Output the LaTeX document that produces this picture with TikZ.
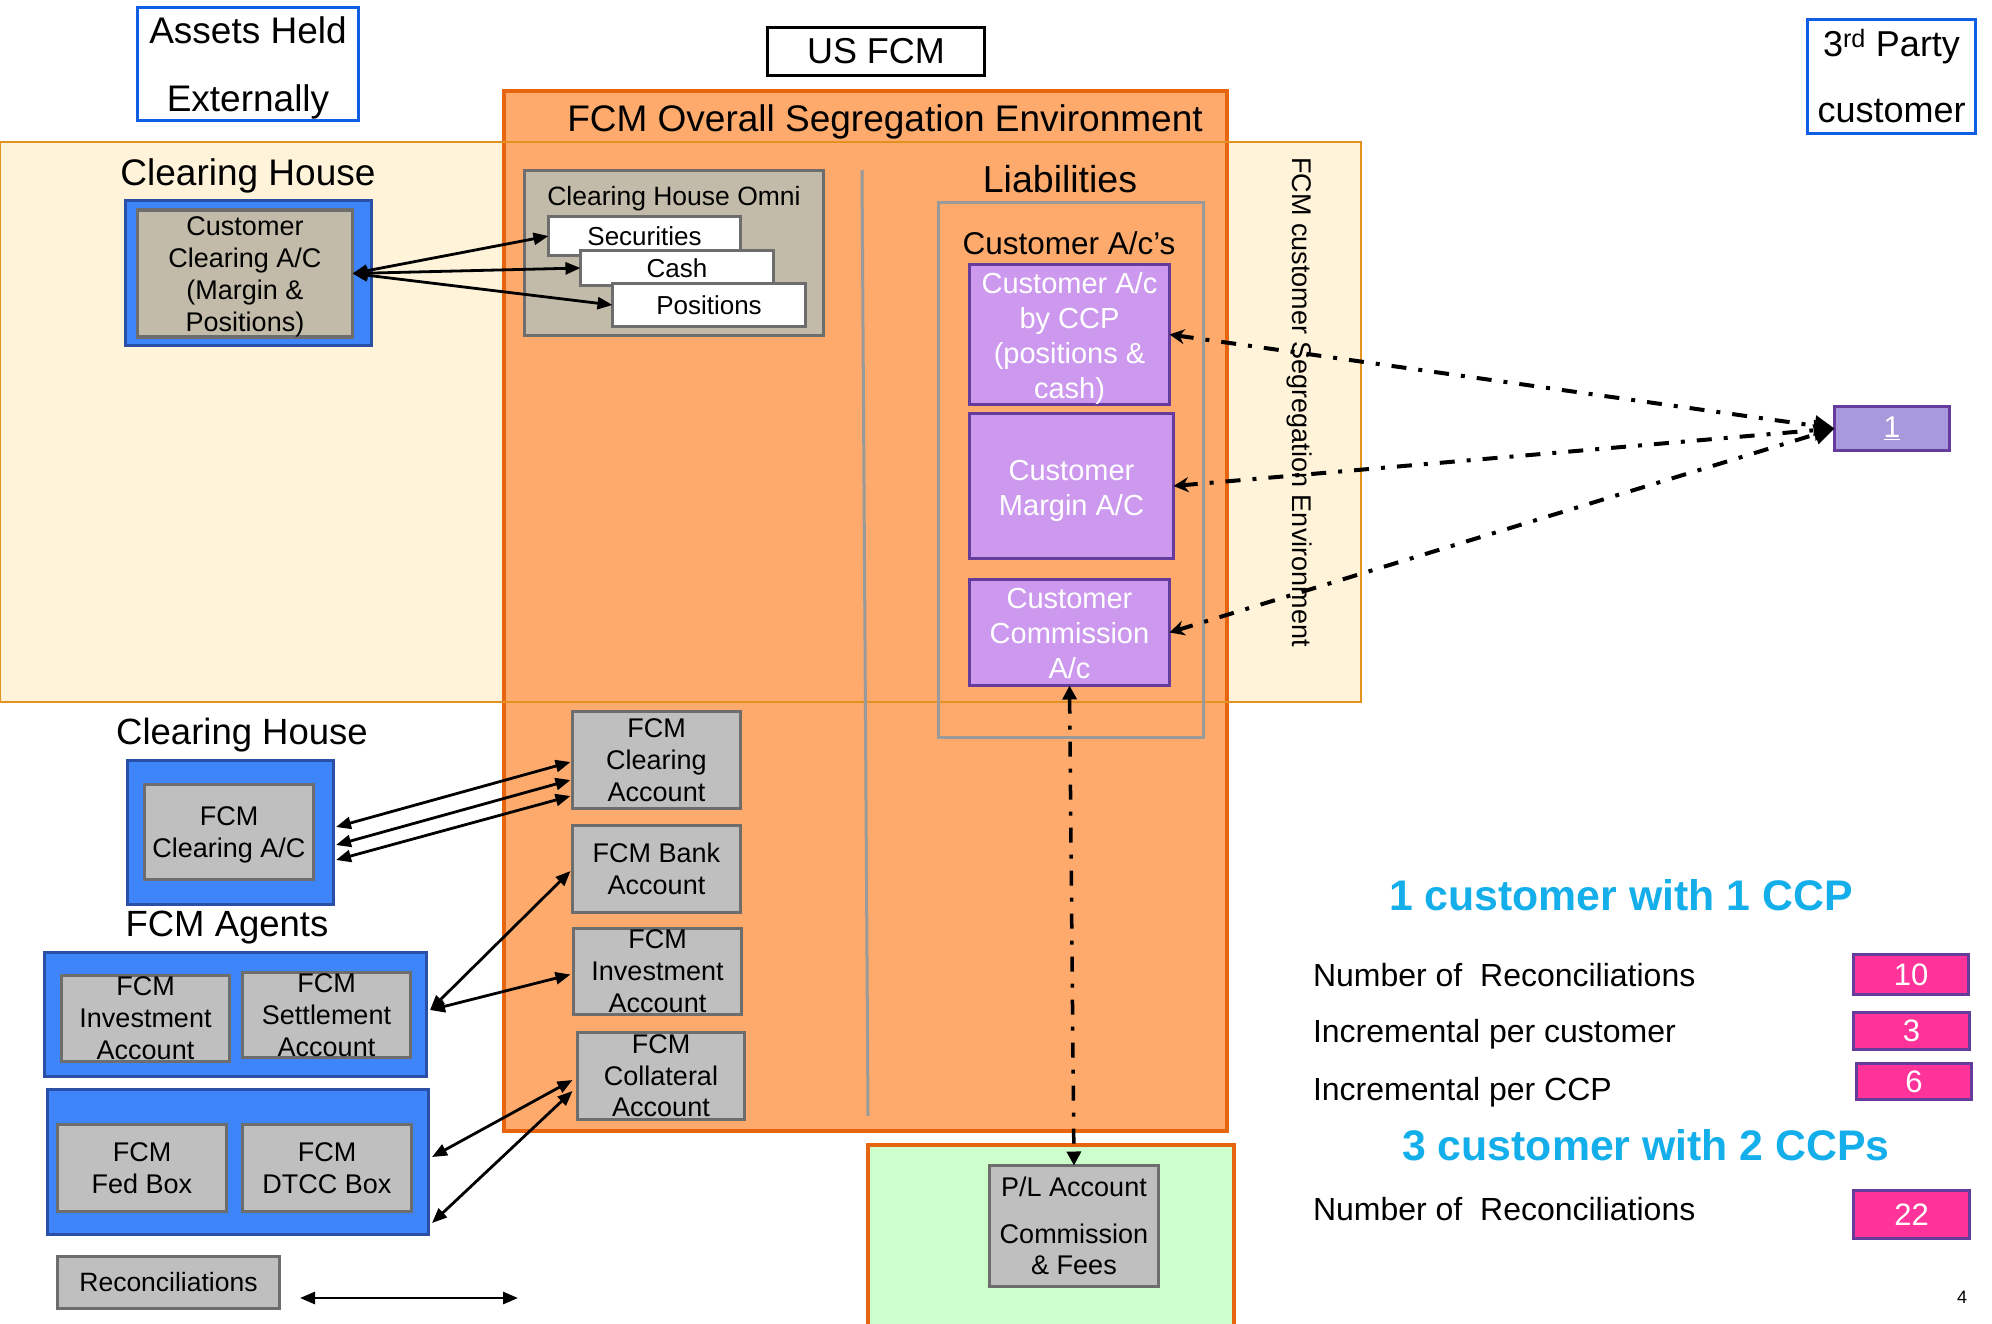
\documentclass[tikz,border=0pt]{standalone}
\usepackage{fontspec}
\setmainfont{Liberation Sans}
\usetikzlibrary{arrows.meta}
\definecolor{orfill}{HTML}{FDAA6C}
\definecolor{orline}{HTML}{E8650F}
\definecolor{palefill}{HTML}{FFF3DA}
\definecolor{paleline}{HTML}{E39222}
\definecolor{bluefill}{HTML}{3D85F8}
\definecolor{blueline}{HTML}{2A4FA6}
\definecolor{assetline}{HTML}{0F5FE6}
\definecolor{tanfill}{HTML}{C3BBA9}
\definecolor{boxline}{HTML}{6D6D6D}
\definecolor{grayfill}{HTML}{BFBFBF}
\definecolor{purfill}{HTML}{CC99EE}
\definecolor{purline}{HTML}{653C9C}
\definecolor{onefill}{HTML}{A898DC}
\definecolor{pinkfill}{HTML}{FF3399}
\definecolor{cyantext}{HTML}{14AFEB}
\definecolor{greenfill}{HTML}{CCFFCC}
\definecolor{vgray}{HTML}{9A9A9A}
\newcommand{\toph}[1]{\rule{0pt}{#1}}
\begin{document}
\begin{tikzpicture}[x=1pt,y=-1pt,
  box/.style={inner sep=0pt, outer sep=0pt, align=center},
  bluebox/.style={box, draw=blueline, fill=bluefill, line width=3pt},
  tanbox/.style={box, draw=boxline, fill=tanfill, line width=3.5pt, font=\fontsize{27}{32}\selectfont},
  whitebox/.style={box, draw=boxline, fill=white, line width=3pt, font=\fontsize{26}{30}\selectfont},
  graybox/.style={box, draw=boxline, fill=grayfill, line width=3.5pt, font=\fontsize{27}{32}\selectfont},
  purbox/.style={box, draw=purline, fill=purfill, line width=3.5pt, text=white, font=\fontsize{29}{35}\selectfont},
  pinkbox/.style={box, draw=purline, fill=pinkfill, line width=3pt, text=white, font=\fontsize{31}{36}\selectfont},
  titlebox/.style={box, fill=white, line width=3pt},
  lbl/.style={inner sep=0pt, outer sep=0pt, text depth=0pt},
  biarrow/.style={{Triangle[length=15pt,width=12pt]}-{Triangle[length=15pt,width=12pt]}, line width=2.8pt},
  ddarrow/.style={{Stealth[length=15pt,width=15pt]}-{Triangle[length=20pt,width=20pt]}, line width=4pt, dash pattern=on 15pt off 12pt on 4pt off 12pt},
  vddarrow/.style={{Triangle[length=14pt,width=14pt]}-{Triangle[length=14pt,width=14pt]}, line width=3.5pt, dash pattern=on 15pt off 12pt on 4pt off 12pt}
]
\useasboundingbox (0,0) rectangle (1992,1323);
\fill[white] (0,0) rectangle (1992,1323);

% background regions
\node[box, fill=palefill, minimum width=1361pt, minimum height=560pt] (pale) at (680.5,422) {};
\node[box, fill=orfill, draw=orline, line width=3.5pt, minimum width=723pt, minimum height=1040pt] (env) at (865.5,611) {};
\node[box, fill=greenfill, draw=orline, line width=3.5pt, minimum width=366pt, minimum height=195pt] (green) at (1051,1242.5) {};
\draw[paleline, line width=2pt] (pale.north west) rectangle (pale.south east);
\draw[vgray, line width=3pt] (862,170) -- (868,1116);
\node[box, draw=vgray, line width=3pt, minimum width=265pt, minimum height=535pt] (liab) at (1070.5,469.5) {};

% top titles
\node[titlebox, draw=assetline, minimum width=221pt, minimum height=113pt, font=\fontsize{37}{68}\selectfont] (assets) at (248,64) {\toph{35pt}Assets Held\\Externally};
\node[titlebox, draw=black, minimum width=217pt, minimum height=48pt, font=\fontsize{36}{40}\selectfont] (usfcm) at (876,51.5) {US FCM};
\node[titlebox, draw=assetline, minimum width=168pt, minimum height=114pt, font=\fontsize{36}{66}\selectfont] (third) at (1891.5,76.5) {3\textsuperscript{rd} Party\\customer};

\node[lbl, font=\fontsize{37}{40}\selectfont] (envtitle) at (885,118) {FCM Overall Segregation Environment};
\node[lbl, font=\fontsize{37}{40}\selectfont] (ch1) at (248,172) {Clearing House};
\node[lbl, font=\fontsize{37.5}{40}\selectfont] (liabt) at (1060,179) {Liabilities};
\node[lbl, font=\fontsize{31.5}{36}\selectfont] (custac) at (1069,243) {Customer A/c’s};
\node[lbl, rotate=-90, font=\fontsize{27}{30}\selectfont] (vtext) at (1302,402) {FCM customer Segregation Environment};

% clearing house (customer)
\node[bluebox, minimum width=246pt, minimum height=145pt] (ccblue) at (248,272.5) {};
\node[tanbox, minimum width=215pt, minimum height=126pt] (ccinner) at (245,273.5) {\toph{25pt}Customer\\Clearing A/C\\(Margin \&\\Positions)};

% omni
\node[tanbox, minimum width=299pt, minimum height=165pt] (omni) at (674,253) {};
\node[lbl, font=\fontsize{26.5}{30}\selectfont] (omnit) at (674,196) {Clearing House Omni};
\node[whitebox, minimum width=192pt, minimum height=39pt] (sec) at (644.5,236) {Securities};
\node[whitebox, minimum width=193pt, minimum height=35pt] (cash) at (677,268) {Cash};
\node[whitebox, minimum width=193pt, minimum height=43pt] (pos) at (709,305) {Positions};

% purple liabilities
\node[purbox, minimum width=200pt, minimum height=132pt] (p1) at (1069.5,334.5) {\toph{29pt}Customer A/c\\by CCP\\(positions \&\\cash)};
\node[purbox, minimum width=204pt, minimum height=145pt] (p2) at (1071.5,486) {\toph{29pt}Customer\\Margin A/C};
\node[purbox, minimum width=200pt, minimum height=106pt] (p3) at (1069.5,632.5) {\toph{23pt}Customer\\Commission\\A/c};
\node[box, draw=purline, fill=onefill, line width=3.5pt, text=white, minimum width=115pt, minimum height=44pt, font=\fontsize{30}{34}\selectfont] (one) at (1892,428.5) {\underline{1}};

% lower clearing house
\node[lbl, font=\fontsize{36.5}{40}\selectfont] (ch2) at (242,731) {Clearing House};
\node[bluebox, minimum width=206pt, minimum height=144pt] (fcblue) at (230,832) {};
\node[graybox, minimum width=169pt, minimum height=95pt] (fcinner) at (229,832) {\toph{25pt}FCM\\Clearing A/C};

\node[lbl, font=\fontsize{36.5}{40}\selectfont] (agents) at (227,924) {FCM Agents};
\node[bluebox, minimum width=382pt, minimum height=124pt] (ag1) at (235,1014) {};
\node[graybox, minimum width=168pt, minimum height=86pt] (inv1) at (145.5,1018.5) {FCM\\Investment\\Account};
\node[graybox, minimum width=168pt, minimum height=85pt] (settle) at (326.5,1015) {FCM\\Settlement\\Account};
\node[bluebox, minimum width=381pt, minimum height=145pt] (ag2) at (237.5,1161.5) {};
\node[graybox, minimum width=169pt, minimum height=87pt] (fed) at (142,1168) {FCM\\Fed Box};
\node[graybox, minimum width=169pt, minimum height=87pt] (dtcc) at (327,1168) {FCM\\DTCC Box};
\node[graybox, minimum width=222pt, minimum height=52pt, font=\fontsize{26.5}{30}\selectfont] (recon) at (168.5,1282.5) {Reconciliations};

% FCM accounts
\node[graybox, minimum width=168pt, minimum height=97pt] (fca) at (656.5,760) {FCM\\Clearing\\Account};
\node[graybox, minimum width=168pt, minimum height=87pt] (bank) at (656.5,869) {FCM Bank\\Account};
\node[graybox, minimum width=168pt, minimum height=86pt] (inv2) at (657.5,971.5) {FCM\\Investment\\Account};
\node[graybox, minimum width=167pt, minimum height=87pt, font=\fontsize{27}{31.5}\selectfont] (coll) at (661,1076) {FCM\\Collateral\\Account};
\node[graybox, minimum width=169pt, minimum height=121pt, font=\fontsize{27}{31}\selectfont] (pl) at (1074,1226) {P/L Account\\[16pt]Commission\\\& Fees};

% stats
\node[lbl, font=\bfseries\fontsize{42.8}{46}\selectfont, text=cyantext] (h1) at (1621,895) {1 customer with 1 CCP};
\node[lbl, font=\bfseries\fontsize{42.8}{46}\selectfont, text=cyantext] (h2) at (1646,1145) {3 customer with 2 CCPs};
\node[lbl, anchor=west, font=\fontsize{32}{36}\selectfont] (s1) at (1313,975) {Number of\ \ Reconciliations};
\node[lbl, anchor=west, font=\fontsize{32}{36}\selectfont] (s2) at (1313,1031) {Incremental per customer};
\node[lbl, anchor=west, font=\fontsize{32}{36}\selectfont] (s3) at (1313,1089) {Incremental per CCP};
\node[lbl, anchor=west, font=\fontsize{32}{36}\selectfont] (s4) at (1313,1209) {Number of\ \ Reconciliations};
\node[pinkbox, minimum width=115pt, minimum height=40pt] (n10) at (1911,974.5) {10};
\node[pinkbox, minimum width=116pt, minimum height=37pt] (n3) at (1911.5,1031) {3};
\node[pinkbox, minimum width=115pt, minimum height=36pt] (n6) at (1914,1081.5) {6};
\node[pinkbox, minimum width=116pt, minimum height=48pt] (n22) at (1911.5,1214.5) {22};
\node[lbl, font=\fontsize{18}{20}\selectfont] (pg) at (1962,1297) {4};

% arrows
\draw[biarrow] (ccinner.east) -- (sec.west);
\draw[biarrow] (ccinner.east) -- (cash.west);
\draw[biarrow] (ccinner.east) -- (pos.west);

\draw[biarrow] ([xshift=3pt,yshift=5pt]fcblue.east) -- ([xshift=-2pt,yshift=-2pt]fca.west);
\draw[biarrow] ([xshift=3pt,yshift=-13pt]fcblue.east) -- ([xshift=-2pt,yshift=-20pt]fca.west);
\draw[biarrow] ([xshift=3pt,yshift=-28pt]fcblue.east) -- ([xshift=-2pt,yshift=-36pt]fca.west);

\draw[biarrow] ([xshift=4pt,yshift=4pt]ag1.east) -- ([xshift=-2pt,yshift=-2pt]bank.west);
\draw[biarrow] ([xshift=4pt,yshift=4pt]ag1.east) -- ([xshift=-3pt,yshift=-3pt]inv2.west);
\draw[biarrow] ([xshift=4pt,yshift=4.5pt]ag2.east) -- ([xshift=-5pt,yshift=-4pt]coll.west);
\draw[biarrow] ([xshift=4pt,yshift=-61.5pt]ag2.east) -- ([xshift=-5pt,yshift=-15pt]coll.west);

\coordinate (ra) at (300,1298);
\coordinate (rb) at (518,1298);
\draw[biarrow] (ra) -- (rb);

\draw[ddarrow] (p1.east) -- (one.west);
\draw[ddarrow] (p2.east) -- (one.west);
\draw[ddarrow] (p3.east) -- (one.west);
\draw[vddarrow] (p3.south) -- (pl.north);
\end{tikzpicture}
\end{document}
